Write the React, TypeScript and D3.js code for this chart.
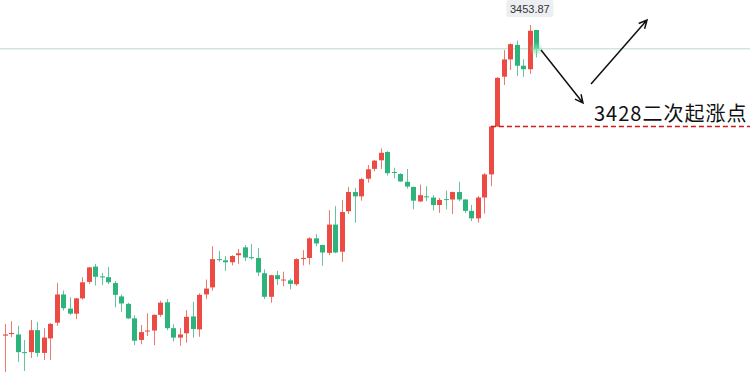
import React from "react";
import * as d3 from "d3";

const opens = [3374.7,3375.1,3375.0,3370.5,3370.5,3376.1,3370.3,3374.0,3378.0,3385.2,3381.6,3380.3,3384.2,3388.4,3392.3,3389.8,3389.6,3388.1,3384.7,3382.8,3379.1,3373.6,3375.8,3376.0,3380.0,3383.2,3376.6,3374.2,3375.3,3379.6,3376.3,3385.2,3387.0,3394.2,3393.9,3393.4,3395.2,3397.2,3394.7,3394.5,3390.6,3384.6,3390.1,3388.9,3388.8,3387.8,3394.3,3394.5,3399.5,3397.8,3395.8,3403.0,3396.1,3406.4,3411.3,3410.2,3414.7,3417.2,3419.4,3421.5,3416.4,3415.9,3413.9,3412.6,3408.9,3410.2,3409.9,3408.0,3409.5,3409.4,3411.3,3409.4,3406.5,3404.6,3409.9,3415.8,3428.0,3440.7,3445.1,3448.8,3443.5,3442.6,3452.6];
const highs = [3377.7,3378.4,3377.2,3373.6,3378.7,3378.2,3376.6,3377.9,3388.1,3386.2,3384.5,3384.3,3389.6,3392.2,3393.0,3390.7,3392.2,3388.6,3385.2,3383.1,3379.9,3377.4,3380.4,3380.1,3383.6,3384.0,3377.6,3376.6,3381.2,3383.3,3385.5,3389.0,3397.5,3396.3,3395.0,3395.2,3396.8,3397.8,3398.1,3397.0,3391.6,3390.2,3391.2,3391.0,3389.3,3394.4,3396.5,3399.8,3400.6,3397.9,3406.7,3407.7,3409.3,3412.6,3412.3,3414.9,3418.2,3419.5,3422.4,3421.7,3417.5,3416.1,3417.2,3412.7,3413.2,3412.8,3410.5,3409.8,3411.7,3411.4,3413.9,3409.5,3408.0,3410.3,3416.1,3428.1,3440.6,3447.5,3449.2,3449.9,3445.1,3453.87,3452.6];
const lows = [3365.4,3374.3,3368.0,3365.7,3369.0,3369.3,3368.5,3368.5,3377.2,3381.1,3380.0,3378.9,3383.9,3387.9,3387.5,3387.6,3387.8,3381.9,3380.8,3378.9,3372.3,3372.5,3374.6,3372.3,3379.5,3376.1,3373.2,3372.1,3372.9,3374.2,3374.4,3384.0,3386.2,3393.5,3391.2,3392.6,3393.0,3393.7,3394.1,3389.9,3384.0,3383.1,3387.6,3387.3,3386.5,3387.4,3392.6,3392.8,3397.5,3392.5,3395.2,3395.7,3393.5,3405.7,3403.5,3409.1,3413.7,3416.6,3417.2,3415.5,3414.8,3413.9,3412.2,3406.9,3408.8,3409.0,3406.6,3406.0,3406.9,3405.7,3409.0,3406.0,3403.9,3403.5,3405.8,3412.8,3427.9,3438.6,3442.4,3440.9,3440.7,3441.4,3445.6];
const closes = [3375.0,3375.4,3370.5,3370.3,3376.1,3370.3,3374.2,3377.7,3385.2,3381.7,3380.3,3384.2,3388.3,3392.1,3389.7,3389.7,3388.3,3385.1,3382.9,3379.1,3373.4,3375.6,3376.0,3380.0,3383.1,3376.6,3374.2,3375.0,3379.5,3376.4,3385.1,3386.7,3394.2,3394.1,3393.4,3395.0,3395.7,3394.6,3394.6,3390.8,3384.6,3390.1,3389.1,3389.0,3387.9,3394.2,3394.5,3399.5,3398.2,3395.9,3403.0,3395.9,3406.2,3411.3,3410.2,3414.6,3417.1,3419.3,3421.3,3416.1,3416.2,3414.0,3412.7,3409.1,3410.5,3410.0,3408.0,3409.3,3409.4,3411.3,3409.4,3406.5,3404.6,3409.9,3415.8,3428.0,3440.4,3445.1,3449.0,3443.5,3442.6,3452.4,3447.8];

const keyLevel = 3428;
const keyLevelIndex = 75;
const annotation = "3428二次起涨点";
const highLabel = "3453.87";

const W = 750;
const H = 375;
const UP = "#eb4b42";
const DOWN = "#2db47c";

export default function App() {
  const n = opens.length;
  const x = d3.scaleLinear().domain([0, n - 1]).range([4.7, 536.3]);
  const y = d3.scaleLinear().domain([3365, 3460]).range([373.7, 0.96]);
  const bw = 5;

  const hiIdx = d3.maxIndex(highs);
  const hiX = x(hiIdx);
  const lastY = y(closes[n - 1]);
  const lastX = x(n - 1);

  const arrow = (x1: number, y1: number, x2: number, y2: number) => {
    const ang = Math.atan2(y2 - y1, x2 - x1);
    const L = 9;
    const a = 0.45;
    const p1 = [x2 - L * Math.cos(ang - a), y2 - L * Math.sin(ang - a)];
    const p2 = [x2 - L * Math.cos(ang + a), y2 - L * Math.sin(ang + a)];
    return `M${x1},${y1}L${x2},${y2}M${p1[0]},${p1[1]}L${x2},${y2}L${p2[0]},${p2[1]}`;
  };

  return (
    <svg width={W} height={H} style={{ position: "absolute", left: 0, top: 0, background: "#fff" }}>
      <defs>
        <radialGradient id="glow">
          <stop offset="0%" stopColor="#7be0a8" stopOpacity={0.9} />
          <stop offset="100%" stopColor="#7be0a8" stopOpacity={0} />
        </radialGradient>
      </defs>
      <rect width={W} height={H} fill="#fff" />
      <line x1={0} x2={W} y1={lastY} y2={lastY} stroke="#b8dccd" strokeWidth={1} />
      {opens.map((o, i) => {
        const c = closes[i];
        const up = c >= o;
        const col = up ? UP : DOWN;
        const cx = Math.round(x(i)) + 0.5;
        const top = y(Math.max(o, c));
        const bot = y(Math.min(o, c));
        return (
          <g key={i}>
            <line x1={cx} x2={cx} y1={y(highs[i])} y2={y(lows[i])} stroke={col} strokeWidth={1} opacity={0.75} />
            <rect x={cx - bw / 2} y={top} width={bw} height={Math.max(1, bot - top)} fill={col} />
          </g>
        );
      })}
      <circle cx={lastX} cy={lastY} r={7} fill="url(#glow)" />
      <line x1={x(keyLevelIndex)} x2={W} y1={y(keyLevel)} y2={y(keyLevel)} stroke="#cc1a1a" strokeWidth={1.5} strokeDasharray="5,3" />
      <rect x={hiX - 23.5} y={0} width={47} height={17} rx={2} fill="#eceef1" />
      <text x={hiX} y={12.5} textAnchor="middle" fontSize={11} fill="#333" fontFamily="'Liberation Sans', Arial, sans-serif">{highLabel}</text>
      <path d={arrow(541, 50, 583, 103)} stroke="#111" strokeWidth={1.5} fill="none" />
      <path d={arrow(591, 84, 647, 20)} stroke="#111" strokeWidth={1.5} fill="none" />
      <text x={594} y={121} fontSize={20} letterSpacing={1} fill="#111" fontFamily="'Noto Sans CJK SC', sans-serif">{annotation}</text>
    </svg>
  );
}
